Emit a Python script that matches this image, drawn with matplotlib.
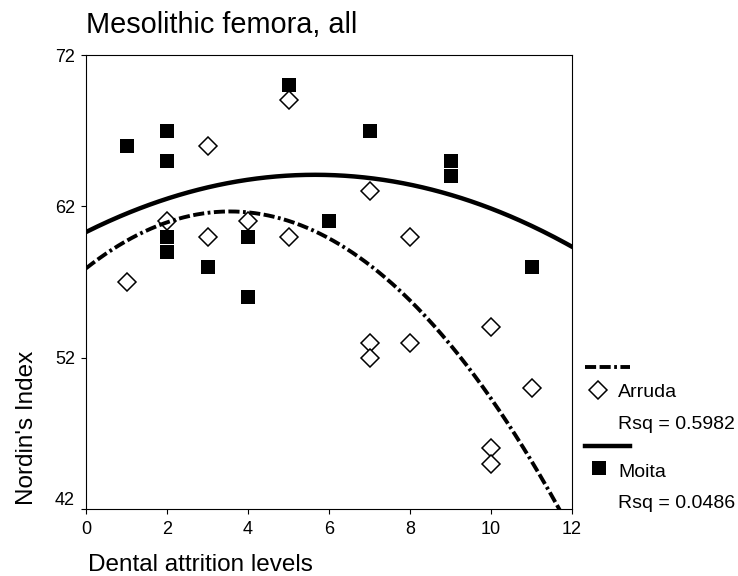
"""Mesolithic femora: Nordin's index against dental attrition, with quadratic fits."""

import matplotlib

matplotlib.use("Agg")
import matplotlib.pyplot as plt
import numpy as np
from matplotlib.transforms import ScaledTranslation

# Arruda (open diamonds)
arruda_attrition = [1, 2, 3, 3, 4, 5, 5, 7, 7, 7, 8, 8, 10, 10, 10, 11]
arruda_nordin = [57, 61, 66, 60, 61, 69, 60, 63, 53, 52, 60, 53, 54, 46, 45, 50]

# Moita (filled squares)
moita_attrition = [1, 2, 2, 2, 2, 3, 4, 4, 5, 6, 7, 9, 9, 11]
moita_nordin = [66, 67, 65, 60, 59, 58, 60, 56, 70, 61, 67, 65, 64, 58]

# quadratic fit lines as printed (constant, linear, square term)
arruda_fit = [57.9, 2.116, -0.2976]
moita_fit = [60.3, 1.3375, -0.1182]

x_ticks = [0, 2, 4, 6, 8, 10, 12]
y_ticks = [42, 52, 62, 72]
legend_rsq = {"Arruda": "Rsq = 0.5982", "Moita": "Rsq = 0.0486"}

plt.rcParams["font.family"] = ["Liberation Sans", "DejaVu Sans"]
plt.rcParams["lines.scale_dashes"] = False

W, H = 738, 576
DASH = (0, (8, 2.5, 8, 2.5, 2, 2.5))

fig = plt.figure(figsize=(W / 100, H / 100), dpi=100)
ax = fig.add_axes([86 / W, 1 - 509 / H, 486 / W, 454 / H])


def fit_curve(coeffs):
    grid = np.linspace(0, 12, 300)
    return grid, np.polyval(coeffs[::-1], grid)


ax.plot(moita_attrition, moita_nordin, "s", ms=9.4, mew=0, color="black", zorder=2)
ax.plot(arruda_attrition, arruda_nordin, "D", ms=8.8, mfc="white", mec="black", mew=1.1, zorder=3)

gx, gy = fit_curve(moita_fit)
ax.plot(gx, gy, "-", color="black", lw=3.2, zorder=4)
gx, gy = fit_curve(arruda_fit)
ax.plot(gx, gy, color="black", lw=2.8, linestyle=DASH, zorder=4)

ax.set_xlim(0, 12)
ax.set_ylim(42, 72)
ax.set_xticks(x_ticks)
ax.set_yticks(y_ticks)
ax.tick_params(direction="out", length=3.6, width=0.8, labelsize=13)
ax.tick_params(axis="x", pad=5)
ax.tick_params(axis="y", pad=4.3)
for spine in ax.spines.values():
    spine.set_linewidth(0.8)

# SPSS lifts the bottom y label clear of the x axis labels
low = ax.yaxis.get_major_ticks()[0].label1
low.set_transform(low.get_transform() + ScaledTranslation(0, 0.1, fig.dpi_scale_trans))

# overlay in pixel coordinates for the titles and the legend
lay = fig.add_axes([0, 0, 1, 1])
lay.set_xlim(0, W)
lay.set_ylim(H, 0)
lay.axis("off")

lay.text(86, 33, "Mesolithic femora, all", fontsize=20.8, ha="left", va="baseline")
lay.text(88, 571, "Dental attrition levels", fontsize=17.5, ha="left", va="baseline")
lay.text(33, 428, "Nordin's Index", fontsize=17.5, rotation=90, rotation_mode="anchor",
         ha="center", va="baseline")

lay.plot([585, 630], [367, 367], color="black", lw=2.8, linestyle=DASH)
lay.plot([598], [390], "D", ms=8.8, mfc="white", mec="black", mew=1.1)
lay.text(618, 397, "Arruda", fontsize=14, va="baseline")
lay.text(618, 429, legend_rsq["Arruda"], fontsize=14, va="baseline")

lay.plot([585, 630], [446, 446], "-", color="black", lw=3.2)
lay.plot([599], [468], "s", ms=9.4, mew=0, color="black")
lay.text(618, 477, "Moita", fontsize=14, va="baseline")
lay.text(618, 508, legend_rsq["Moita"], fontsize=14, va="baseline")

fig.savefig("out.png", dpi=100)
